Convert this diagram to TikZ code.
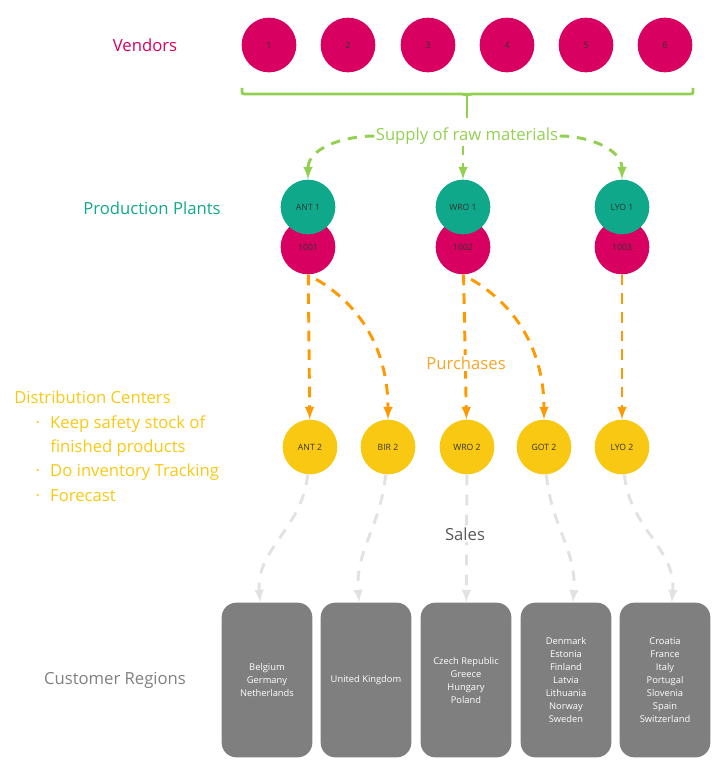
\documentclass[tikz,border=0pt]{standalone}
\usepackage{fontspec}
\setmainfont{Open Sans}

\definecolor{vendorred}{RGB}{216,0,96}
\definecolor{plantgreen}{RGB}{16,168,138}
\definecolor{dcyellow}{RGB}{249,200,18}
\definecolor{supplygreen}{RGB}{146,208,80}
\definecolor{purchorange}{RGB}{255,153,0}
\definecolor{purchtext}{RGB}{248,166,40}
\definecolor{salesgray}{RGB}{226,226,226}
\definecolor{regiongray}{RGB}{127,127,127}
\definecolor{labelgray}{RGB}{128,128,128}
\definecolor{darkgray}{RGB}{89,89,89}

\tikzset{
	site/.style={circle, minimum size=41pt, inner sep=0pt, text=black!80, font=\fontsize{6.5}{8}\selectfont},
	vendor/.style={site, fill=vendorred},
	plant/.style={site, fill=plantgreen},
	plantno/.style={site, fill=vendorred},
	dc/.style={site, fill=dcyellow},
	region/.style={rectangle, rounded corners=11pt, fill=regiongray, text=white, minimum width=68pt, minimum height=116pt, align=center, font=\fontsize{7}{9.75}\selectfont},
	caption/.style={font=\fontsize{12.5}{18.2}\selectfont},
	supply/.style={draw=supplygreen, line width=2.2pt, dash pattern=on 7pt off 6pt, -latex},
	purchase/.style={draw=purchorange, line width=2.2pt, dash pattern=on 8pt off 6pt, -latex},
	sale/.style={draw=salesgray, line width=2.2pt, dash pattern=on 8pt off 7pt, -latex},
}

\newcommand{\dcitem}{\makebox[27pt][l]{\hspace*{16pt}\textperiodcentered}}

\begin{document}
\begin{tikzpicture}[x=0.75pt,y=-0.75pt]
	\useasboundingbox (0,0) rectangle (725,767);

	% labels on the left
	\node[caption, text=vendorred] (vendors) at (145,45) {Vendors};
	\node[caption, text=plantgreen] (plants) at (152,208) {Production Plants};
	\node[caption, text=dcyellow, anchor=base west, inner sep=0pt, align=left] (dclabel) at (14,501) {Distribution Centers\\
		\dcitem Keep safety stock of\\
		\hspace*{27pt}finished products\\
		\dcitem Do inventory Tracking\\
		\dcitem Forecast};
	\node[caption, text=labelgray] (customers) at (115,680) {Customer Regions};

	% vendors
	\foreach \n/\x in {1/269, 2/348, 3/428, 4/507, 5/586, 6/665}{
		\node[vendor] (v\n) at (\x,45) {\n};
	}
	\coordinate (braceM) at (467,95);
	\draw[supplygreen, line width=2.2pt, rounded corners=1.5pt] (242,88) -- (242,94) -- (464,94) -- (braceM) -- (470,94) -- (693,94) -- (693,88);
	\node[caption, text=supplygreen, inner sep=1pt] (supply) at (467,136) {Supply of raw materials};
	\draw[supplygreen, line width=2.2pt, shorten >=6pt] (braceM) -- (supply.north);

	% production plants
	\foreach \site/\code/\x in {ANT/1001/308, WRO/1002/463, LYO/1003/622}{
		\node[plantno] (\site-no) at (\x,247) {\code};
		\node[plant] (\site-1) at (\x,207) {\site\ 1};
	}
	\draw[supply] (supply.west) to[out=180,in=90] (ANT-1);
	\draw[supply] (supply.south -| WRO-1) -- (WRO-1);
	\draw[supply] (supply.east) to[out=0,in=90] (LYO-1);

	% distribution centers
	\foreach \site/\x in {ANT/310, BIR/388, WRO/467, GOT/544, LYO/622}{
		\node[dc] (\site-2) at (\x,447) {\site\ 2};
	}
	\draw[purchase] (ANT-no) -- (ANT-2);
	\draw[purchase, shorten <=7pt] (ANT-no.south) to[out=-30,in=90] (BIR-2);
	\draw[purchase] (WRO-no) -- (WRO-2);
	\draw[purchase, shorten <=7pt] (WRO-no.south) to[out=-30,in=90] (GOT-2);
	\draw[purchase] (LYO-no) -- (LYO-2);
	\node[caption, text=purchtext, fill=white, inner sep=1pt] (purchases) at (466,363) {Purchases};

	% customer regions
	\node[region] (r1) at (267,680) {Belgium\\Germany\\Netherlands};
	\node[region] (r2) at (366,680) {United Kingdom};
	\node[region] (r3) at (466,680) {Czech Republic\\Greece\\Hungary\\Poland};
	\node[region] (r4) at (566,680) {Denmark\\Estonia\\Finland\\Latvia\\Lithuania\\Norway\\Sweden};
	\node[region] (r5) at (665,680) {Croatia\\France\\Italy\\Portugal\\Slovenia\\Spain\\Switzerland};

	\draw[sale] (ANT-2) to[out=-95,in=95] (r1);
	\draw[sale] (BIR-2) to[out=-95,in=95] (r2);
	\draw[sale] (WRO-2) -- (r3);
	\draw[sale] (GOT-2) to[out=-85,in=85] (r4);
	\draw[sale] (LYO-2) to[out=-85,in=85] (r5);
	\node[caption, text=darkgray, fill=white, inner sep=1pt] (sales) at (465,534) {Sales};
\end{tikzpicture}
\end{document}
